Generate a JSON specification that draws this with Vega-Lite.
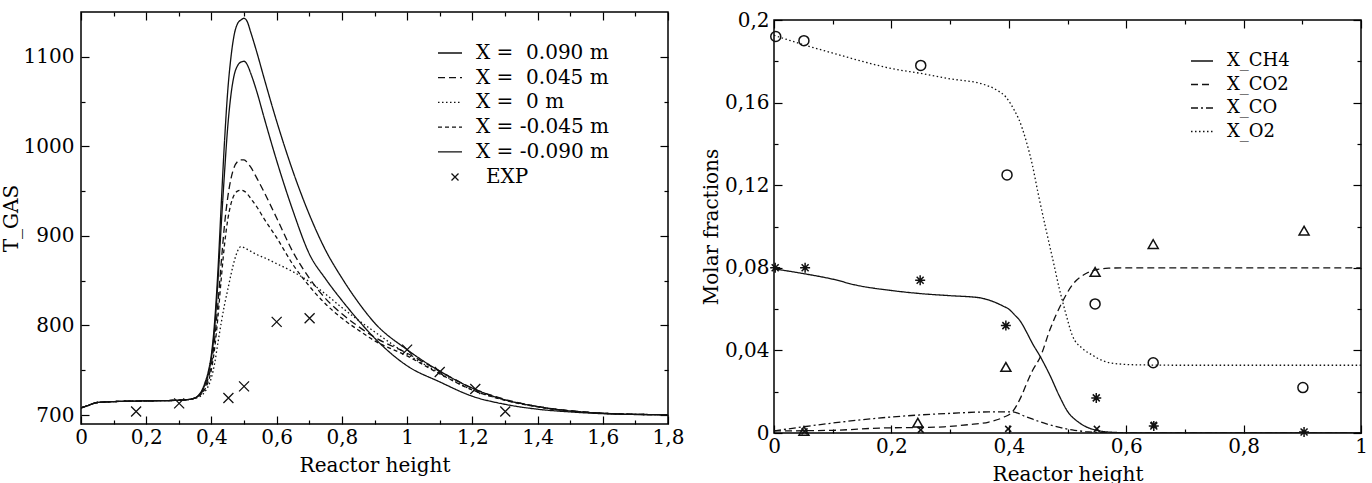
{
  "$schema": "https://vega.github.io/schema/vega-lite/v6.json",
  "background": "white",
  "padding": {"left": 0, "top": 9, "right": 9, "bottom": 0},
  "spacing": 15,
  "resolve": {"scale": {"strokeDash": "independent", "shape": "independent"}, "legend": {"strokeDash": "independent", "shape": "independent"}},
  "config": {
    "font": "DejaVu Serif",
    "view": {"stroke": "black", "strokeWidth": 1.5},
    "axis": {"domain": false, "grid": false, "tickColor": "black", "tickWidth": 1.2, "labelFont": "DejaVu Serif", "labelFontSize": 20, "labelColor": "black", "labelOverlap": false, "labelFlush": false, "titleFont": "DejaVu Serif", "titleFontSize": 20, "titleFontWeight": "normal", "titleColor": "black"},
    "legend": {"labelFont": "DejaVu Serif", "labelColor": "black", "titleFont": "DejaVu Serif"}
  },
  "datasets": {
    "tgas": [
      {"h":0,"T":708,"s":"p090"},{"h":0.02,"T":710.5,"s":"p090"},{"h":0.05,"T":714,"s":"p090"},{"h":0.1,"T":715,"s":"p090"},{"h":0.2,"T":715.8,"s":"p090"},{"h":0.3,"T":716.5,"s":"p090"},{"h":0.34,"T":718,"s":"p090"},{"h":0.36,"T":722,"s":"p090"},{"h":0.37,"T":727,"s":"p090"},{"h":0.38,"T":736,"s":"p090"},{"h":0.39,"T":748,"s":"p090"},{"h":0.4,"T":768,"s":"p090"},{"h":0.41,"T":805,"s":"p090"},{"h":0.42,"T":862,"s":"p090"},{"h":0.43,"T":935,"s":"p090"},{"h":0.44,"T":1005,"s":"p090"},{"h":0.45,"T":1062,"s":"p090"},{"h":0.46,"T":1100,"s":"p090"},{"h":0.47,"T":1125,"s":"p090"},{"h":0.48,"T":1137,"s":"p090"},{"h":0.49,"T":1141,"s":"p090"},{"h":0.5,"T":1143,"s":"p090"},{"h":0.51,"T":1139,"s":"p090"},{"h":0.52,"T":1128,"s":"p090"},{"h":0.54,"T":1104,"s":"p090"},{"h":0.56,"T":1078,"s":"p090"},{"h":0.6,"T":1028,"s":"p090"},{"h":0.65,"T":972,"s":"p090"},{"h":0.7,"T":924,"s":"p090"},{"h":0.75,"T":884,"s":"p090"},{"h":0.8,"T":853,"s":"p090"},{"h":0.85,"T":826,"s":"p090"},{"h":0.9,"T":803,"s":"p090"},{"h":1,"T":773,"s":"p090"},{"h":1.1,"T":749,"s":"p090"},{"h":1.2,"T":730,"s":"p090"},{"h":1.3,"T":717,"s":"p090"},{"h":1.4,"T":709.5,"s":"p090"},{"h":1.5,"T":704.5,"s":"p090"},{"h":1.6,"T":702,"s":"p090"},{"h":1.7,"T":700.8,"s":"p090"},{"h":1.8,"T":700.4,"s":"p090"},
      {"h":0,"T":708,"s":"p045"},{"h":0.02,"T":710.5,"s":"p045"},{"h":0.05,"T":714,"s":"p045"},{"h":0.1,"T":715,"s":"p045"},{"h":0.2,"T":715.8,"s":"p045"},{"h":0.3,"T":716.5,"s":"p045"},{"h":0.34,"T":718,"s":"p045"},{"h":0.36,"T":721,"s":"p045"},{"h":0.37,"T":725,"s":"p045"},{"h":0.38,"T":731,"s":"p045"},{"h":0.39,"T":741,"s":"p045"},{"h":0.4,"T":757,"s":"p045"},{"h":0.41,"T":785,"s":"p045"},{"h":0.42,"T":825,"s":"p045"},{"h":0.43,"T":870,"s":"p045"},{"h":0.44,"T":912,"s":"p045"},{"h":0.45,"T":943,"s":"p045"},{"h":0.46,"T":964,"s":"p045"},{"h":0.47,"T":977,"s":"p045"},{"h":0.48,"T":983,"s":"p045"},{"h":0.49,"T":985,"s":"p045"},{"h":0.5,"T":985,"s":"p045"},{"h":0.51,"T":982,"s":"p045"},{"h":0.52,"T":977,"s":"p045"},{"h":0.54,"T":964,"s":"p045"},{"h":0.56,"T":950,"s":"p045"},{"h":0.6,"T":920,"s":"p045"},{"h":0.65,"T":882,"s":"p045"},{"h":0.7,"T":853,"s":"p045"},{"h":0.75,"T":830,"s":"p045"},{"h":0.8,"T":813,"s":"p045"},{"h":0.85,"T":799,"s":"p045"},{"h":0.9,"T":787,"s":"p045"},{"h":1,"T":769,"s":"p045"},{"h":1.1,"T":749,"s":"p045"},{"h":1.2,"T":730,"s":"p045"},{"h":1.3,"T":717.5,"s":"p045"},{"h":1.4,"T":709.5,"s":"p045"},{"h":1.5,"T":705,"s":"p045"},{"h":1.6,"T":702,"s":"p045"},{"h":1.7,"T":700.8,"s":"p045"},{"h":1.8,"T":700.4,"s":"p045"},
      {"h":0,"T":708,"s":"z"},{"h":0.02,"T":710.5,"s":"z"},{"h":0.05,"T":714,"s":"z"},{"h":0.1,"T":715,"s":"z"},{"h":0.2,"T":715.8,"s":"z"},{"h":0.3,"T":716.5,"s":"z"},{"h":0.34,"T":718,"s":"z"},{"h":0.36,"T":720,"s":"z"},{"h":0.37,"T":722,"s":"z"},{"h":0.38,"T":726,"s":"z"},{"h":0.39,"T":732,"s":"z"},{"h":0.4,"T":742,"s":"z"},{"h":0.41,"T":758,"s":"z"},{"h":0.42,"T":781,"s":"z"},{"h":0.43,"T":803,"s":"z"},{"h":0.44,"T":823,"s":"z"},{"h":0.45,"T":840,"s":"z"},{"h":0.46,"T":857,"s":"z"},{"h":0.47,"T":872,"s":"z"},{"h":0.48,"T":883,"s":"z"},{"h":0.49,"T":888,"s":"z"},{"h":0.5,"T":887,"s":"z"},{"h":0.51,"T":885,"s":"z"},{"h":0.52,"T":883,"s":"z"},{"h":0.54,"T":879,"s":"z"},{"h":0.56,"T":876,"s":"z"},{"h":0.6,"T":869,"s":"z"},{"h":0.65,"T":860,"s":"z"},{"h":0.7,"T":849,"s":"z"},{"h":0.75,"T":835,"s":"z"},{"h":0.8,"T":820,"s":"z"},{"h":0.85,"T":806,"s":"z"},{"h":0.9,"T":793,"s":"z"},{"h":1,"T":768,"s":"z"},{"h":1.1,"T":747,"s":"z"},{"h":1.2,"T":728,"s":"z"},{"h":1.3,"T":717,"s":"z"},{"h":1.4,"T":709.5,"s":"z"},{"h":1.5,"T":704.5,"s":"z"},{"h":1.6,"T":702,"s":"z"},{"h":1.7,"T":700.8,"s":"z"},{"h":1.8,"T":700.4,"s":"z"},
      {"h":0,"T":708,"s":"m045"},{"h":0.02,"T":710.5,"s":"m045"},{"h":0.05,"T":714,"s":"m045"},{"h":0.1,"T":715,"s":"m045"},{"h":0.2,"T":715.8,"s":"m045"},{"h":0.3,"T":716.5,"s":"m045"},{"h":0.34,"T":718,"s":"m045"},{"h":0.36,"T":721,"s":"m045"},{"h":0.37,"T":724,"s":"m045"},{"h":0.38,"T":729,"s":"m045"},{"h":0.39,"T":737,"s":"m045"},{"h":0.4,"T":751,"s":"m045"},{"h":0.41,"T":775,"s":"m045"},{"h":0.42,"T":810,"s":"m045"},{"h":0.43,"T":852,"s":"m045"},{"h":0.44,"T":890,"s":"m045"},{"h":0.45,"T":918,"s":"m045"},{"h":0.46,"T":936,"s":"m045"},{"h":0.47,"T":946,"s":"m045"},{"h":0.48,"T":950,"s":"m045"},{"h":0.49,"T":951,"s":"m045"},{"h":0.5,"T":950,"s":"m045"},{"h":0.51,"T":947,"s":"m045"},{"h":0.52,"T":942,"s":"m045"},{"h":0.54,"T":932,"s":"m045"},{"h":0.56,"T":920,"s":"m045"},{"h":0.6,"T":898,"s":"m045"},{"h":0.65,"T":868,"s":"m045"},{"h":0.7,"T":844,"s":"m045"},{"h":0.75,"T":824,"s":"m045"},{"h":0.8,"T":808,"s":"m045"},{"h":0.85,"T":795,"s":"m045"},{"h":0.9,"T":783,"s":"m045"},{"h":1,"T":766,"s":"m045"},{"h":1.1,"T":746,"s":"m045"},{"h":1.2,"T":728,"s":"m045"},{"h":1.3,"T":716.5,"s":"m045"},{"h":1.4,"T":709,"s":"m045"},{"h":1.5,"T":704.5,"s":"m045"},{"h":1.6,"T":702,"s":"m045"},{"h":1.7,"T":700.8,"s":"m045"},{"h":1.8,"T":700.4,"s":"m045"},
      {"h":0,"T":708,"s":"m090"},{"h":0.02,"T":710.5,"s":"m090"},{"h":0.05,"T":714,"s":"m090"},{"h":0.1,"T":715,"s":"m090"},{"h":0.2,"T":715.8,"s":"m090"},{"h":0.3,"T":716.5,"s":"m090"},{"h":0.34,"T":718,"s":"m090"},{"h":0.36,"T":721.5,"s":"m090"},{"h":0.37,"T":726,"s":"m090"},{"h":0.38,"T":734,"s":"m090"},{"h":0.39,"T":745,"s":"m090"},{"h":0.4,"T":764,"s":"m090"},{"h":0.41,"T":798,"s":"m090"},{"h":0.42,"T":850,"s":"m090"},{"h":0.43,"T":912,"s":"m090"},{"h":0.44,"T":970,"s":"m090"},{"h":0.45,"T":1022,"s":"m090"},{"h":0.46,"T":1058,"s":"m090"},{"h":0.47,"T":1080,"s":"m090"},{"h":0.48,"T":1090,"s":"m090"},{"h":0.49,"T":1094,"s":"m090"},{"h":0.5,"T":1095,"s":"m090"},{"h":0.51,"T":1091,"s":"m090"},{"h":0.52,"T":1082,"s":"m090"},{"h":0.54,"T":1060,"s":"m090"},{"h":0.56,"T":1034,"s":"m090"},{"h":0.6,"T":984,"s":"m090"},{"h":0.65,"T":928,"s":"m090"},{"h":0.7,"T":880,"s":"m090"},{"h":0.75,"T":852,"s":"m090"},{"h":0.8,"T":828,"s":"m090"},{"h":0.85,"T":806,"s":"m090"},{"h":0.9,"T":786,"s":"m090"},{"h":1,"T":755,"s":"m090"},{"h":1.1,"T":737,"s":"m090"},{"h":1.2,"T":721,"s":"m090"},{"h":1.3,"T":712,"s":"m090"},{"h":1.4,"T":706.5,"s":"m090"},{"h":1.5,"T":703.5,"s":"m090"},{"h":1.6,"T":701.5,"s":"m090"},{"h":1.7,"T":700.6,"s":"m090"},{"h":1.8,"T":700.3,"s":"m090"}
    ],
    "texp": [
      {"h":0.169,"T":704,"s":"EXP"},{"h":0.301,"T":713,"s":"EXP"},{"h":0.452,"T":719,"s":"EXP"},{"h":0.5,"T":732,"s":"EXP"},{"h":0.6,"T":804,"s":"EXP"},{"h":0.701,"T":808,"s":"EXP"},{"h":1.0,"T":773,"s":"EXP"},{"h":1.1,"T":748,"s":"EXP"},{"h":1.209,"T":729,"s":"EXP"},{"h":1.301,"T":704,"s":"EXP"}
    ],
    "molar": [
      {"h":0,"y":0.0795,"sp":"CH4"},{"h":0.05,"y":0.0772,"sp":"CH4"},{"h":0.1,"y":0.0745,"sp":"CH4"},{"h":0.14,"y":0.0716,"sp":"CH4"},{"h":0.2,"y":0.069,"sp":"CH4"},{"h":0.25,"y":0.0675,"sp":"CH4"},{"h":0.3,"y":0.0665,"sp":"CH4"},{"h":0.35,"y":0.0655,"sp":"CH4"},{"h":0.37,"y":0.064,"sp":"CH4"},{"h":0.39,"y":0.0615,"sp":"CH4"},{"h":0.4,"y":0.06,"sp":"CH4"},{"h":0.41,"y":0.0572,"sp":"CH4"},{"h":0.42,"y":0.054,"sp":"CH4"},{"h":0.43,"y":0.049,"sp":"CH4"},{"h":0.44,"y":0.0435,"sp":"CH4"},{"h":0.454,"y":0.0368,"sp":"CH4"},{"h":0.47,"y":0.028,"sp":"CH4"},{"h":0.486,"y":0.018,"sp":"CH4"},{"h":0.5,"y":0.0105,"sp":"CH4"},{"h":0.52,"y":0.005,"sp":"CH4"},{"h":0.55,"y":0.0013,"sp":"CH4"},{"h":0.58,"y":0.0003,"sp":"CH4"},{"h":0.62,"y":0,"sp":"CH4"},{"h":0.8,"y":0,"sp":"CH4"},{"h":1,"y":0,"sp":"CH4"},
      {"h":0,"y":0.001,"sp":"CO2"},{"h":0.1,"y":0.0013,"sp":"CO2"},{"h":0.18,"y":0.0024,"sp":"CO2"},{"h":0.25,"y":0.0027,"sp":"CO2"},{"h":0.29,"y":0.003,"sp":"CO2"},{"h":0.33,"y":0.004,"sp":"CO2"},{"h":0.366,"y":0.0053,"sp":"CO2"},{"h":0.39,"y":0.0075,"sp":"CO2"},{"h":0.406,"y":0.0102,"sp":"CO2"},{"h":0.42,"y":0.017,"sp":"CO2"},{"h":0.429,"y":0.023,"sp":"CO2"},{"h":0.44,"y":0.03,"sp":"CO2"},{"h":0.454,"y":0.037,"sp":"CO2"},{"h":0.47,"y":0.05,"sp":"CO2"},{"h":0.491,"y":0.0634,"sp":"CO2"},{"h":0.508,"y":0.0716,"sp":"CO2"},{"h":0.53,"y":0.077,"sp":"CO2"},{"h":0.548,"y":0.079,"sp":"CO2"},{"h":0.57,"y":0.0798,"sp":"CO2"},{"h":0.6,"y":0.08,"sp":"CO2"},{"h":0.8,"y":0.08,"sp":"CO2"},{"h":1,"y":0.08,"sp":"CO2"},
      {"h":0,"y":0.001,"sp":"CO"},{"h":0.05,"y":0.003,"sp":"CO"},{"h":0.105,"y":0.005,"sp":"CO"},{"h":0.17,"y":0.007,"sp":"CO"},{"h":0.241,"y":0.0086,"sp":"CO"},{"h":0.3,"y":0.0095,"sp":"CO"},{"h":0.366,"y":0.0102,"sp":"CO"},{"h":0.406,"y":0.0102,"sp":"CO"},{"h":0.43,"y":0.0078,"sp":"CO"},{"h":0.463,"y":0.0045,"sp":"CO"},{"h":0.49,"y":0.0025,"sp":"CO"},{"h":0.508,"y":0.0015,"sp":"CO"},{"h":0.53,"y":0.0007,"sp":"CO"},{"h":0.56,"y":0.0002,"sp":"CO"},{"h":0.6,"y":0,"sp":"CO"},{"h":1,"y":0,"sp":"CO"},
      {"h":0,"y":0.1926,"sp":"O2"},{"h":0.054,"y":0.1877,"sp":"O2"},{"h":0.1,"y":0.184,"sp":"O2"},{"h":0.15,"y":0.18,"sp":"O2"},{"h":0.2,"y":0.1765,"sp":"O2"},{"h":0.253,"y":0.174,"sp":"O2"},{"h":0.3,"y":0.1715,"sp":"O2"},{"h":0.355,"y":0.169,"sp":"O2"},{"h":0.38,"y":0.166,"sp":"O2"},{"h":0.395,"y":0.1627,"sp":"O2"},{"h":0.41,"y":0.156,"sp":"O2"},{"h":0.417,"y":0.152,"sp":"O2"},{"h":0.43,"y":0.141,"sp":"O2"},{"h":0.44,"y":0.13,"sp":"O2"},{"h":0.45,"y":0.116,"sp":"O2"},{"h":0.463,"y":0.099,"sp":"O2"},{"h":0.475,"y":0.084,"sp":"O2"},{"h":0.486,"y":0.07,"sp":"O2"},{"h":0.497,"y":0.058,"sp":"O2"},{"h":0.508,"y":0.0474,"sp":"O2"},{"h":0.525,"y":0.041,"sp":"O2"},{"h":0.542,"y":0.0378,"sp":"O2"},{"h":0.56,"y":0.035,"sp":"O2"},{"h":0.582,"y":0.0336,"sp":"O2"},{"h":0.62,"y":0.033,"sp":"O2"},{"h":0.7,"y":0.0328,"sp":"O2"},{"h":1,"y":0.0328,"sp":"O2"}
    ],
    "mexp": [
      {"h":0.003,"y":0.192,"sp":"O2"},{"h":0.051,"y":0.19,"sp":"O2"},{"h":0.25,"y":0.178,"sp":"O2"},{"h":0.397,"y":0.125,"sp":"O2"},{"h":0.547,"y":0.0625,"sp":"O2"},{"h":0.646,"y":0.034,"sp":"O2"},{"h":0.901,"y":0.022,"sp":"O2"},
      {"h":0.002,"y":0.08,"sp":"CH4"},{"h":0.053,"y":0.08,"sp":"CH4"},{"h":0.249,"y":0.074,"sp":"CH4"},{"h":0.395,"y":0.052,"sp":"CH4"},{"h":0.549,"y":0.017,"sp":"CH4"},{"h":0.647,"y":0.0034,"sp":"CH4"},{"h":0.903,"y":0.0005,"sp":"CH4"},
      {"h":0.051,"y":0.001,"sp":"CO2"},{"h":0.245,"y":0.005,"sp":"CO2"},{"h":0.395,"y":0.032,"sp":"CO2"},{"h":0.547,"y":0.078,"sp":"CO2"},{"h":0.646,"y":0.0915,"sp":"CO2"},{"h":0.903,"y":0.098,"sp":"CO2"},
      {"h":0.052,"y":0.0008,"sp":"CO"},{"h":0.25,"y":0.0015,"sp":"CO"},{"h":0.399,"y":0.002,"sp":"CO"},{"h":0.55,"y":0.002,"sp":"CO"},{"h":0.647,"y":0.004,"sp":"CO"}
    ]
  },
  "hconcat": [
    {
      "width": 587,
      "height": 412,
      "layer": [
        {
          "data": {"name": "tgas"},
          "mark": {"type": "line", "color": "#111111", "strokeWidth": 1.3, "interpolate": "monotone", "clip": true},
          "encoding": {
            "x": {"field": "h", "type": "quantitative", "scale": {"domain": [0, 1.8], "nice": false, "zero": false},
              "axis": {"title": "Reactor height", "values": [0,0.1,0.2,0.3,0.4,0.5,0.6,0.7,0.8,0.9,1,1.1,1.2,1.3,1.4,1.5,1.6,1.7,1.8],
                "tickSize": {"condition": {"test": "round(datum.value*10) % 2 == 0", "value": -8}, "value": -4},
                "labelPadding": 11, "titlePadding": 4,
                "labelExpr": "round(datum.value*10) % 2 == 0 ? replace(format(datum.value, '~g'), '.', ',') : ''"}},
            "y": {"field": "T", "type": "quantitative", "scale": {"domain": [690, 1150], "nice": false, "zero": false},
              "axis": {"title": "T_GAS", "values": [700,750,800,850,900,950,1000,1050,1100],
                "tickSize": {"condition": {"test": "datum.value % 100 == 0", "value": -8}, "value": -4},
                "labelPadding": 15, "titlePadding": 2,
                "labelExpr": "datum.value % 100 == 0 ? format(datum.value, 'd') : ''"}},
            "strokeDash": {"field": "s", "type": "nominal",
              "scale": {"domain": ["p090", "p045", "z", "m045", "m090"], "range": [[1, 0], [7, 4], [1.5, 2.5], [4, 3], [1, 0]]},
              "legend": {"title": null, "orient": "none", "legendX": 356, "legendY": 28, "padding": 0, "symbolType": "stroke", "symbolSize": 576, "symbolStrokeWidth": 1.3, "symbolStrokeColor": "#111111", "labelFontSize": 20, "labelOffset": 13, "rowPadding": 1.7,
                "labelExpr": "datum.label == 'p090' ? 'X =\u00a0\u00a00.090 m' : datum.label == 'p045' ? 'X =\u00a0\u00a00.045 m' : datum.label == 'z' ? 'X =\u00a0\u00a00 m' : datum.label == 'm045' ? 'X = -0.045 m' : 'X = -0.090 m'"}}
          }
        },
        {
          "data": {"name": "texp"},
          "mark": {"type": "point", "filled": false, "stroke": "#111111", "strokeWidth": 1.3, "size": 100, "opacity": 1},
          "encoding": {
            "x": {"field": "h", "type": "quantitative",
              "axis": {"orient": "top", "title": null, "labels": false, "values": [0,0.1,0.2,0.3,0.4,0.5,0.6,0.7,0.8,0.9,1,1.1,1.2,1.3,1.4,1.5,1.6,1.7,1.8],
                "tickSize": {"condition": {"test": "round(datum.value*10) % 2 == 0", "value": -8}, "value": -4}}},
            "y": {"field": "T", "type": "quantitative",
              "axis": {"orient": "right", "title": null, "labels": false, "values": [700,750,800,850,900,950,1000,1050,1100],
                "tickSize": {"condition": {"test": "datum.value % 100 == 0", "value": -8}, "value": -4}}},
            "shape": {"field": "s", "type": "nominal",
              "scale": {"domain": ["EXP"], "range": ["M-1,-1L1,1M-1,1L1,-1"]},
              "legend": {"title": null, "orient": "none", "legendX": 364, "legendY": 155, "padding": 0, "symbolSize": 49, "symbolStrokeWidth": 1.3, "symbolStrokeColor": "#111111", "symbolFillColor": "transparent", "labelFontSize": 20, "labelOffset": 21}}
          }
        }
      ],
      "resolve": {"axis": {"x": "independent", "y": "independent"}}
    },
    {
      "spacing": -4,
      "vconcat": [
        {
          "width": 587,
          "height": 1,
          "data": {"values": []},
          "mark": "point",
          "view": {"stroke": null}
        },
        {
          "width": 587,
          "height": 413,
          "layer": [
            {
              "data": {"name": "molar"},
              "mark": {"type": "line", "color": "#111111", "strokeWidth": 1.3, "interpolate": "monotone", "clip": true},
              "encoding": {
                "x": {"field": "h", "type": "quantitative", "scale": {"domain": [0, 1], "nice": false, "zero": false},
                  "axis": {"title": "Reactor height", "values": [0,0.1,0.2,0.3,0.4,0.5,0.6,0.7,0.8,0.9,1],
                    "tickSize": {"condition": {"test": "round(datum.value*10) % 2 == 0", "value": -8}, "value": -4},
                    "labelPadding": 11, "titlePadding": 4,
                    "labelExpr": "round(datum.value*10) % 2 == 0 ? replace(format(datum.value, '~g'), '.', ',') : ''"}},
                "y": {"field": "y", "type": "quantitative", "scale": {"domain": [0, 0.2], "nice": false, "zero": false},
                  "axis": {"title": "Molar fractions", "values": [0,0.02,0.04,0.06,0.08,0.1,0.12,0.14,0.16,0.18,0.2],
                    "tickSize": {"condition": {"test": "round(datum.value*100) % 4 == 0", "value": -8}, "value": -4},
                    "labelPadding": 13, "titlePadding": 3,
                    "labelExpr": "round(datum.value*100) % 4 == 0 ? replace(format(datum.value, '~g'), '.', ',') : ''"}},
                "strokeDash": {"field": "sp", "type": "nominal",
                  "scale": {"domain": ["CH4", "CO2", "CO", "O2"], "range": [[1, 0], [7, 4], [7, 3, 2, 3], [1.5, 2.5]]},
                  "legend": {"title": null, "orient": "none", "legendX": 416, "legendY": 37, "padding": 0, "symbolType": "stroke", "symbolSize": 484, "symbolStrokeWidth": 1.3, "symbolStrokeColor": "#111111", "labelFontSize": 18, "labelOffset": 13, "rowPadding": 2.5,
                    "labelExpr": "'X_' + datum.label"}}
              }
            },
            {
              "data": {"name": "mexp"},
              "mark": {"type": "point", "filled": false, "stroke": "#111111", "strokeWidth": 1.5, "size": 100, "opacity": 1},
              "encoding": {
                "x": {"field": "h", "type": "quantitative",
                  "axis": {"orient": "top", "title": null, "labels": false, "values": [0,0.1,0.2,0.3,0.4,0.5,0.6,0.7,0.8,0.9,1],
                    "tickSize": {"condition": {"test": "round(datum.value*10) % 2 == 0", "value": -8}, "value": -4}}},
                "y": {"field": "y", "type": "quantitative",
                  "axis": {"orient": "right", "title": null, "labels": false, "values": [0,0.02,0.04,0.06,0.08,0.1,0.12,0.14,0.16,0.18,0.2],
                    "tickSize": {"condition": {"test": "round(datum.value*100) % 4 == 0", "value": -8}, "value": -4}}},
                "shape": {"field": "sp", "type": "nominal",
                  "scale": {"domain": ["O2", "CH4", "CO2", "CO"], "range": ["circle", "M0,-1L0,1M-1,0L1,0M-0.7,-0.7L0.7,0.7M-0.7,0.7L0.7,-0.7", "triangle-up", "M-0.6,-0.6L0.6,0.6M-0.6,0.6L0.6,-0.6"]},
                  "legend": null}
              }
            }
          ],
          "resolve": {"axis": {"x": "independent", "y": "independent"}}
        }
      ]
    }
  ]
}
